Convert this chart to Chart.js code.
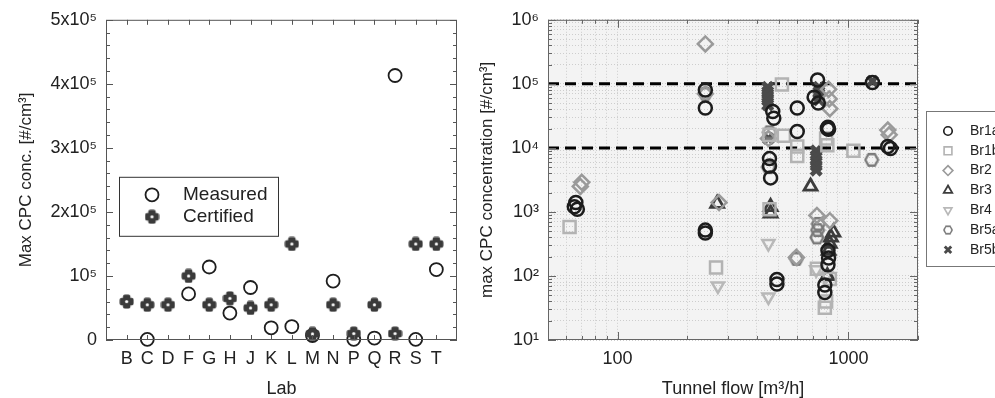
<!DOCTYPE html>
<html>
<head>
<meta charset="utf-8">
<script src="https://cdn.jsdelivr.net/npm/chart.js@4.4.0/dist/chart.umd.min.js"></script>
<style>
  html, body { margin: 0; padding: 0; background: #fff; overflow: hidden; width: 995px; height: 398px; }
  #left { position: absolute; left: 0; top: 0; }
  #right { position: absolute; left: 470px; top: 0; }
</style>
</head>
<body>
<canvas id="left" width="470" height="398"></canvas>
<canvas id="right" width="525" height="398"></canvas>
<script>
// ---- left panel: max CPC conc. per lab ----
var labs = ['B','C','D','F','G','H','J','K','L','M','N','P','Q','R','S','T'];
var measured = [null, 1000, null, 72000, 114000, 42000, 82000, 19000, 21000, 7000, 92000, 1000, 3000, 413000, 1000, 110000];
var certified = [60000, 55000, 55000, 100000, 55000, 65000, 50000, 55000, 150000, 9500, 55000, 10000, 55000, 10000, 150000, 150000];
var concTicks = [0, 100000, 200000, 300000, 400000, 500000];
var concTickLabels = ['0', '10⁵', '2x10⁵', '3x10⁵', '4x10⁵', '5x10⁵'];

// ---- right panel: max CPC concentration vs tunnel flow, [flow, conc] ----
var br1a = [[66,1400],[65,1200],[67,1100],[240,80000],[240,42000],[240,520],[240,470],
  [470,37000],[475,29000],[455,6800],[455,5200],[460,3400],[600,42000],[600,18000],
  [490,88],[490,75],[735,115000],[710,62000],[740,50000],[815,21000],[820,19500],[810,20000],
  [815,250],[820,190],[815,150],[790,72],[790,55],[1480,10500],[1520,9800],[1270,105000]];
var br1b = [[62,580],[267,135],[515,98000],[525,15500],[600,10500],[600,7500],[800,14000],
  [810,11000],[1050,9000],[730,130],[790,32],[830,90],[800,40],[455,1100],[455,16000]];
var br2 = [[240,420000],[240,70000],[70,2900],[69,2500],[275,1400],[595,195],[820,82000],
  [825,58000],[830,41000],[730,880],[830,730],[1480,19000],[1500,16000],[450,14000]];
var br3 = [[270,1350],[460,1200],[460,950],[685,2500],[860,480],[840,400],[830,320],[820,250],[810,100]];
var br4 = [[272,70],[450,320],[450,47],[725,125],[800,100]];
var br5a = [[1260,6500],[595,185],[455,17500],[240,70000],[740,650],[735,520],[730,400],[450,5000]];
var br5b = [[447,88000],[447,75000],[447,64000],[447,55000],[447,47000],[450,14000],[725,9000],
  [725,7500],[725,6300],[725,5300],[725,4500],[745,88000],[745,75000],[745,65000],[745,56000],[1270,110000]];
var limitLines = [10000, 100000];
var flowTickLabels = { 100: '100', 1000: '1000' };
var sup = ['⁰','¹','²','³','⁴','⁵','⁶'];

Chart.defaults.font.family = "'Liberation Sans', Arial, sans-serif";
Chart.defaults.color = '#222';

// marker images for the shapes chart.js doesn't have
function plusImage(size, color) {
  var c = document.createElement('canvas'); c.width = c.height = size;
  var g = c.getContext('2d'), m = size / 2, arm = size * 0.25;
  g.fillStyle = color;
  g.beginPath();
  if (g.roundRect) { g.roundRect(m - arm, 0.5, 2 * arm, size - 1, 2); g.roundRect(0.5, m - arm, size - 1, 2 * arm, 2); }
  else { g.rect(m - arm, 0.5, 2 * arm, size - 1); g.rect(0.5, m - arm, size - 1, 2 * arm); }
  g.fill();
  g.fillStyle = '#fff'; g.beginPath(); g.arc(m, m, 1.6, 0, Math.PI * 2); g.fill();
  return c;
}
function hexImage(size, color, lw) {
  var c = document.createElement('canvas'); c.width = c.height = size;
  var g = c.getContext('2d'), r = size / 2 - lw / 2 - 0.5;
  g.strokeStyle = color; g.lineWidth = lw; g.beginPath();
  for (var i = 0; i < 6; i++) {
    var a = i * Math.PI / 3;
    var px = size / 2 + r * Math.cos(a), py = size / 2 + r * Math.sin(a) * 1.05;
    if (i) g.lineTo(px, py); else g.moveTo(px, py);
  }
  g.closePath(); g.stroke();
  return c;
}

// box with inward tick marks
function framePlugin(color, xTicks, yTicks) {
  return {
    id: 'frame',
    afterDraw: function(chart) {
      var ctx = chart.ctx, a = chart.chartArea, x = chart.scales.x, y = chart.scales.y;
      ctx.save();
      ctx.strokeStyle = color; ctx.lineWidth = 1;
      ctx.strokeRect(a.left + 0.5, a.top + 0.5, a.right - a.left - 1, a.bottom - a.top - 1);
      ctx.beginPath();
      xTicks.forEach(function(t) {
        var px = Math.round(x.getPixelForValue(t[0])) + 0.5;
        ctx.moveTo(px, a.top); ctx.lineTo(px, a.top + t[1]);
        ctx.moveTo(px, a.bottom); ctx.lineTo(px, a.bottom - t[1]);
      });
      yTicks.forEach(function(t) {
        var py = Math.round(y.getPixelForValue(t[0])) + 0.5;
        ctx.moveTo(a.left, py); ctx.lineTo(a.left + t[1], py);
        ctx.moveTo(a.right, py); ctx.lineTo(a.right - t[1], py);
      });
      ctx.stroke();
      ctx.restore();
    }
  };
}

function drawLegendMarker(ctx, ds, x, y, scale) {
  var st = ds.pointStyle;
  if (typeof st === 'object') {
    var w = st.width * scale, h = st.height * scale;
    ctx.drawImage(st, x - w / 2, y - h / 2, w, h);
    return;
  }
  ctx.lineWidth = ds.pointBorderWidth * scale;
  ctx.strokeStyle = ds.pointBorderColor;
  ctx.fillStyle = 'rgba(0,0,0,0)';
  Chart.helpers.drawPoint(ctx, { pointStyle: st, radius: ds.pointRadius * scale, borderWidth: ds.pointBorderWidth, rotation: ds.pointRotation || 0 }, x, y);
}

// ---------------- left chart ----------------
var certImg = plusImage(15, '#3a3a3a');
var leftY = [];
for (var v = 0; v <= 500000; v += 20000) leftY.push([v, v % 100000 === 0 ? 7 : 4]);

new Chart(document.getElementById('left'), {
  type: 'scatter',
  data: {
    datasets: [
      {
        label: 'Certified',
        data: certified.map(function(c, i) { return { x: i, y: c }; }),
        pointStyle: certImg, pointRadius: 7, clip: false
      },
      {
        label: 'Measured',
        data: measured.map(function(m, i) { return m === null ? null : { x: i, y: m }; }).filter(Boolean),
        pointStyle: 'circle', pointRadius: 6.5, pointBorderWidth: 1.8,
        pointBorderColor: '#1e1e1e', pointBackgroundColor: 'rgba(0,0,0,0)', clip: false
      }
    ]
  },
  options: {
    responsive: false, animation: false, devicePixelRatio: 1,
    layout: { padding: { left: 0, right: 13, top: 19, bottom: 0 } },
    plugins: { legend: { display: false }, tooltip: { enabled: false } },
    scales: {
      x: {
        type: 'linear', min: -1, max: 16,
        afterBuildTicks: function(s) { s.ticks = labs.map(function(l, i) { return { value: i }; }); },
        afterFit: function(s) { s.height = 58; },
        grid: { display: false, drawTicks: false }, border: { display: false },
        ticks: { autoSkip: false, maxRotation: 0, padding: 8, font: { size: 18 },
          callback: function(v) { return labs[v] || ''; } },
        title: { display: true, text: 'Lab', font: { size: 18, lineHeight: 1 }, padding: { top: 0, bottom: 0 } }
      },
      y: {
        type: 'linear', min: 0, max: 500000,
        afterBuildTicks: function(s) { s.ticks = concTicks.map(function(c) { return { value: c }; }); },
        afterFit: function(s) { s.width = 106; },
        grid: { display: false, drawTicks: false }, border: { display: false },
        ticks: { padding: 9, font: { size: 18 },
          callback: function(v) { return concTickLabels[concTicks.indexOf(v)]; } },
        title: { display: true, text: 'Max CPC conc. [#/cm³]', font: { size: 17 }, padding: { top: 16, bottom: 0 } }
      }
    }
  },
  plugins: [
    framePlugin('#555', labs.map(function(l, i) { return [i, 5]; }), leftY),
    {
      id: 'leftLegend',
      afterDraw: function(chart) {
        var ctx = chart.ctx, a = chart.chartArea, ds = chart.data.datasets;
        var x0 = a.left + 13, y0 = a.top + 157;
        ctx.save();
        ctx.strokeStyle = '#333'; ctx.lineWidth = 1;
        ctx.strokeRect(x0 + 0.5, y0 + 0.5, 159, 59);
        ctx.font = "19px 'Liberation Sans', Arial, sans-serif";
        ctx.textBaseline = 'middle';
        [ds[1], ds[0]].forEach(function(d, i) {
          var yy = y0 + 18 + i * 22;
          drawLegendMarker(ctx, d, x0 + 33, yy, 1);
          ctx.fillStyle = '#222';
          ctx.fillText(d.label, x0 + 64, yy);
        });
        ctx.restore();
      }
    }
  ]
});

// ---------------- right chart ----------------
function pts(arr) { return arr.map(function(p) { return { x: p[0], y: p[1] }; }); }
var flowGrid = [], concGrid = [], rightX = [], rightY = [];
[10, 100, 1000].forEach(function(d) {
  for (var k = 1; k <= 9; k++) { var f = k * d; if (f >= 60 && f <= 2000) { flowGrid.push(f); rightX.push([f, k === 1 ? 8 : 4]); } }
});
[10, 100, 1000, 10000, 100000, 1000000].forEach(function(d) {
  for (var k = 1; k <= 9; k++) { var c = k * d; if (c <= 1000000) { concGrid.push(c); rightY.push([c, k === 1 ? 8 : 4]); } }
});

var rightSets = [
  { label: 'Br1a', data: pts(br1a), pointStyle: 'circle', pointRadius: 6.5, pointBorderWidth: 2.5, pointBorderColor: '#1c1c1c' },
  { label: 'Br1b', data: pts(br1b), pointStyle: 'rect', pointRadius: 8.5, pointBorderWidth: 2.5, pointBorderColor: '#b3b3b3' },
  { label: 'Br2', data: pts(br2), pointStyle: 'rectRot', pointRadius: 7.5, pointBorderWidth: 2.5, pointBorderColor: '#9a9a9a' },
  { label: 'Br3', data: pts(br3), pointStyle: 'triangle', pointRadius: 7.5, pointBorderWidth: 2.8, pointBorderColor: '#3c3c3c' },
  { label: 'Br4', data: pts(br4), pointStyle: 'triangle', pointRotation: 180, pointRadius: 7, pointBorderWidth: 2.5, pointBorderColor: '#b8b8b8' },
  { label: 'Br5a', data: pts(br5a), pointStyle: hexImage(16, '#7a7a7a', 2.3), pointRadius: 7 },
  { label: 'Br5b', data: pts(br5b), pointStyle: 'crossRot', pointRadius: 7, pointBorderWidth: 4.5, pointBorderColor: '#4a4a4a' }
];
rightSets.forEach(function(d) { d.pointBackgroundColor = 'rgba(0,0,0,0)'; d.clip = false; });
limitLines.forEach(function(l) {
  rightSets.push({
    type: 'line', label: 'limit', data: [{ x: 50, y: l }, { x: 2000, y: l }],
    borderColor: '#000', borderWidth: 3, borderDash: [11, 6], pointRadius: 0, fill: false
  });
});

new Chart(document.getElementById('right'), {
  type: 'scatter',
  data: { datasets: rightSets },
  options: {
    responsive: false, animation: false, devicePixelRatio: 1,
    layout: { padding: { left: 0, right: 77, top: 19, bottom: 0 } },
    plugins: { legend: { display: false }, tooltip: { enabled: false } },
    scales: {
      x: {
        type: 'logarithmic', min: 50, max: 2000,
        afterBuildTicks: function(s) { s.ticks = flowGrid.map(function(f) { return { value: f }; }); },
        afterFit: function(s) { s.height = 58; },
        grid: { color: '#cdcdcd', lineWidth: 1, drawTicks: false },
        border: { display: false, dash: [1, 2] },
        ticks: { autoSkip: false, maxRotation: 0, padding: 8, font: { size: 18 },
          callback: function(v) { return flowTickLabels[v] || ''; } },
        title: { display: true, text: 'Tunnel flow [m³/h]', font: { size: 18, lineHeight: 1 }, padding: { top: 0, bottom: 0 } }
      },
      y: {
        type: 'logarithmic', min: 10, max: 1000000,
        afterBuildTicks: function(s) { s.ticks = concGrid.map(function(c) { return { value: c }; }); },
        afterFit: function(s) { s.width = 78; },
        grid: { color: '#cdcdcd', lineWidth: 1, drawTicks: false },
        border: { display: false, dash: [1, 2] },
        ticks: { autoSkip: false, padding: 9, font: { size: 18 },
          callback: function(v) {
            var e = Math.log10(v);
            return Math.abs(e - Math.round(e)) < 1e-9 ? '10' + sup[Math.round(e)] : '';
          } },
        title: { display: true, text: 'max CPC concentration [#/cm³]', font: { size: 17 }, padding: { top: 7, bottom: 0 } }
      }
    }
  },
  plugins: [
    {
      id: 'plotBg',
      beforeDraw: function(chart) {
        var a = chart.chartArea, ctx = chart.ctx;
        ctx.save(); ctx.fillStyle = '#f3f3f3';
        ctx.fillRect(a.left, a.top, a.right - a.left, a.bottom - a.top);
        ctx.restore();
      }
    },
    framePlugin('#666', rightX, rightY),
    {
      id: 'rightLegend',
      afterDraw: function(chart) {
        var ctx = chart.ctx, a = chart.chartArea;
        var x0 = a.right + 8, y0 = 111;
        ctx.save();
        ctx.strokeStyle = '#777'; ctx.lineWidth = 1;
        ctx.strokeRect(x0 + 0.5, y0 + 0.5, 200, 155);
        ctx.font = "14px 'Liberation Sans', Arial, sans-serif";
        ctx.textBaseline = 'middle';
        chart.data.datasets.slice(0, 7).forEach(function(d, i) {
          var yy = y0 + 20 + i * 19.8;
          drawLegendMarker(ctx, d, x0 + 22, yy, 0.65);
          ctx.fillStyle = '#222';
          ctx.fillText(d.label, x0 + 44, yy);
        });
        ctx.restore();
      }
    }
  ]
});
</script>
</body>
</html>
